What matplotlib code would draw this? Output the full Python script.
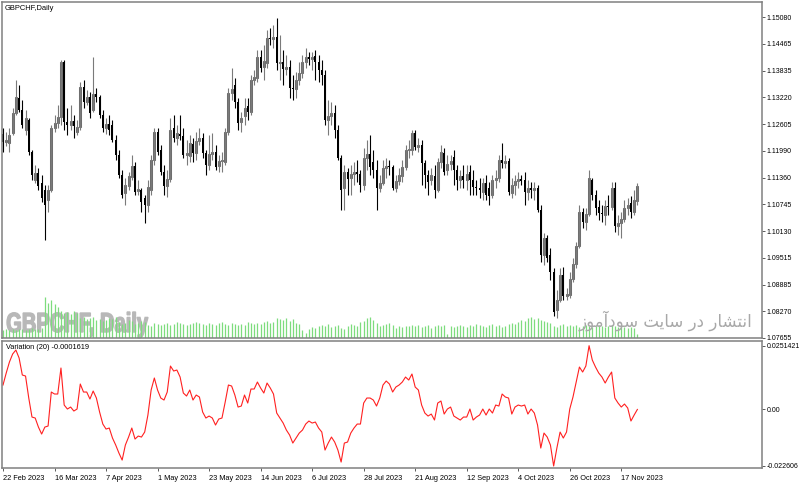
import matplotlib

matplotlib.use("Agg")
import matplotlib.pyplot as plt
import numpy as np
import pandas as pd
from matplotlib.font_manager import FontProperties
from matplotlib.patches import PathPatch
from matplotlib.textpath import TextPath
from matplotlib.transforms import Affine2D

plt.rcParams["font.family"] = ["Liberation Sans", "DejaVu Sans"]

SYMBOL = "GBPCHF"
TIMEFRAME = "Daily"
dates = pd.bdate_range("2023-02-22", periods=198)

opens = [
    1.1237, 1.1219, 1.1217, 1.1240, 1.1286, 1.1321, 1.1293, 1.1247, 1.1270, 1.1196,
    1.1131, 1.1147, 1.1124, 1.1108, 1.1085, 1.1108, 1.1251, 1.1263, 1.1277, 1.1404,
    1.1265, 1.1258, 1.1267, 1.1242, 1.1254, 1.1346, 1.1311, 1.1323, 1.1293, 1.1330,
    1.1323, 1.1281, 1.1251, 1.1260, 1.1258, 1.1224, 1.1189, 1.1143, 1.1101, 1.1117,
    1.1138, 1.1163, 1.1106, 1.1108, 1.1089, 1.1073, 1.1108, 1.1177, 1.1242, 1.1200,
    1.1150, 1.1117, 1.1133, 1.1251, 1.1228, 1.1237, 1.1233, 1.1189, 1.1187, 1.1214,
    1.1194, 1.1221, 1.1228, 1.1194, 1.1166, 1.1191, 1.1196, 1.1163, 1.1175, 1.1173,
    1.1242, 1.1332, 1.1351, 1.1311, 1.1265, 1.1279, 1.1302, 1.1288, 1.1362, 1.1367,
    1.1416, 1.1392, 1.1402, 1.1459, 1.1457, 1.1462, 1.1402, 1.1404, 1.1388, 1.1392,
    1.1344, 1.1342, 1.1362, 1.1379, 1.1404, 1.1416, 1.1411, 1.1418, 1.1404, 1.1385,
    1.1374, 1.1270, 1.1279, 1.1286, 1.1247, 1.1182, 1.1113, 1.1150, 1.1136, 1.1145,
    1.1150, 1.1145, 1.1119, 1.1182, 1.1191, 1.1173, 1.1154, 1.1113, 1.1124, 1.1159,
    1.1163, 1.1161, 1.1113, 1.1129, 1.1140, 1.1161, 1.1200, 1.1200, 1.1240, 1.1207,
    1.1212, 1.1170, 1.1143, 1.1131, 1.1140, 1.1108, 1.1173, 1.1194, 1.1154, 1.1168,
    1.1184, 1.1154, 1.1131, 1.1140, 1.1131, 1.1150, 1.1131, 1.1115, 1.1113, 1.1103,
    1.1124, 1.1113, 1.1096, 1.1131, 1.1136, 1.1177, 1.1170, 1.1175, 1.1101, 1.1119,
    1.1129, 1.1133, 1.1131, 1.1103, 1.1113, 1.1108, 1.1113, 1.1062, 1.0957, 1.0997,
    1.0957, 1.0918, 1.0830, 1.0853, 1.0911, 1.0863, 1.0865, 1.0902, 1.0937, 1.0978,
    1.1057, 1.1034, 1.1052, 1.1131, 1.1096, 1.1069, 1.1055, 1.1050, 1.1071, 1.1069,
    1.1113, 1.1025, 1.1032, 1.1041, 1.1066, 1.1078, 1.1057, 1.1082,
]
highs = [
    1.1251, 1.1242, 1.1251, 1.1298, 1.1362, 1.1351, 1.1316, 1.1293, 1.1274, 1.1200,
    1.1166, 1.1159, 1.1143, 1.1119, 1.1119, 1.1258, 1.1281, 1.1304, 1.1409, 1.1409,
    1.1298, 1.1304, 1.1281, 1.1270, 1.1358, 1.1362, 1.1339, 1.1335, 1.1416, 1.1344,
    1.1328, 1.1293, 1.1274, 1.1281, 1.1270, 1.1235, 1.1200, 1.1154, 1.1136, 1.1150,
    1.1189, 1.1173, 1.1131, 1.1113, 1.1096, 1.1131, 1.1189, 1.1251, 1.1251, 1.1212,
    1.1166, 1.1154, 1.1274, 1.1281, 1.1258, 1.1281, 1.1251, 1.1224, 1.1235, 1.1228,
    1.1242, 1.1251, 1.1240, 1.1200, 1.1235, 1.1240, 1.1212, 1.1189, 1.1196, 1.1251,
    1.1344, 1.1390, 1.1367, 1.1321, 1.1288, 1.1321, 1.1321, 1.1374, 1.1385, 1.1432,
    1.1432, 1.1443, 1.1478, 1.1483, 1.1490, 1.1506, 1.1466, 1.1432, 1.1420, 1.1409,
    1.1374, 1.1381, 1.1404, 1.1420, 1.1436, 1.1427, 1.1427, 1.1432, 1.1420, 1.1409,
    1.1385, 1.1316, 1.1311, 1.1304, 1.1258, 1.1189, 1.1166, 1.1159, 1.1166, 1.1173,
    1.1177, 1.1154, 1.1205, 1.1224, 1.1235, 1.1200, 1.1177, 1.1143, 1.1177, 1.1182,
    1.1177, 1.1166, 1.1143, 1.1159, 1.1177, 1.1212, 1.1224, 1.1247, 1.1247, 1.1228,
    1.1224, 1.1177, 1.1154, 1.1159, 1.1166, 1.1182, 1.1212, 1.1205, 1.1189, 1.1189,
    1.1200, 1.1166, 1.1154, 1.1166, 1.1166, 1.1166, 1.1154, 1.1131, 1.1136, 1.1136,
    1.1143, 1.1126, 1.1143, 1.1154, 1.1189, 1.1217, 1.1189, 1.1182, 1.1136, 1.1143,
    1.1150, 1.1143, 1.1150, 1.1131, 1.1126, 1.1126, 1.1119, 1.1073, 1.1008, 1.1004,
    1.0974, 1.0927, 1.0877, 1.0927, 1.0930, 1.0881, 1.0918, 1.0951, 1.0988, 1.1073,
    1.1066, 1.1066, 1.1154, 1.1136, 1.1108, 1.1085, 1.1073, 1.1085, 1.1096, 1.1126,
    1.1126, 1.1050, 1.1057, 1.1085, 1.1089, 1.1094, 1.1108, 1.1124,
]
lows = [
    1.1196, 1.1210, 1.1196, 1.1235, 1.1281, 1.1288, 1.1251, 1.1235, 1.1189, 1.1131,
    1.1124, 1.1108, 1.1080, 1.0992, 1.1057, 1.1103, 1.1242, 1.1251, 1.1258, 1.1247,
    1.1235, 1.1247, 1.1228, 1.1235, 1.1247, 1.1298, 1.1304, 1.1274, 1.1288, 1.1311,
    1.1274, 1.1242, 1.1237, 1.1235, 1.1219, 1.1177, 1.1136, 1.1089, 1.1073, 1.1108,
    1.1131, 1.1096, 1.1096, 1.1057, 1.1032, 1.1057, 1.1096, 1.1166, 1.1189, 1.1143,
    1.1096, 1.1092, 1.1126, 1.1219, 1.1212, 1.1224, 1.1182, 1.1166, 1.1173, 1.1173,
    1.1177, 1.1212, 1.1182, 1.1143, 1.1154, 1.1177, 1.1154, 1.1150, 1.1150, 1.1166,
    1.1235, 1.1316, 1.1298, 1.1247, 1.1242, 1.1258, 1.1270, 1.1281, 1.1351, 1.1358,
    1.1381, 1.1362, 1.1390, 1.1443, 1.1436, 1.1385, 1.1362, 1.1351, 1.1374, 1.1321,
    1.1316, 1.1321, 1.1351, 1.1367, 1.1390, 1.1397, 1.1385, 1.1362, 1.1358, 1.1351,
    1.1258, 1.1235, 1.1258, 1.1228, 1.1177, 1.1062, 1.1062, 1.1096, 1.1096, 1.1119,
    1.1126, 1.1103, 1.1108, 1.1154, 1.1143, 1.1136, 1.1062, 1.1103, 1.1119, 1.1136,
    1.1143, 1.1108, 1.1103, 1.1119, 1.1126, 1.1154, 1.1182, 1.1189, 1.1200, 1.1196,
    1.1119, 1.1113, 1.1096, 1.1119, 1.1089, 1.1103, 1.1159, 1.1143, 1.1143, 1.1154,
    1.1119, 1.1108, 1.1113, 1.1113, 1.1108, 1.1096, 1.1096, 1.1096, 1.1089, 1.1085,
    1.1085, 1.1073, 1.1089, 1.1113, 1.1126, 1.1159, 1.1159, 1.1096, 1.1089, 1.1096,
    1.1113, 1.1119, 1.1073, 1.1085, 1.1089, 1.1085, 1.1057, 1.0941, 1.0934, 1.0941,
    1.0900, 1.0816, 1.0812, 1.0849, 1.0853, 1.0853, 1.0858, 1.0895, 1.0927, 1.0974,
    1.1020, 1.1015, 1.1048, 1.1085, 1.1050, 1.1038, 1.1034, 1.1027, 1.1050, 1.1062,
    1.1011, 1.1004, 1.0997, 1.1034, 1.1050, 1.1043, 1.1050, 1.1073,
]
closes = [
    1.1219, 1.1224, 1.1235, 1.1286, 1.1323, 1.1293, 1.1258, 1.1274, 1.1196, 1.1143,
    1.1147, 1.1117, 1.1089, 1.1073, 1.1108, 1.1251, 1.1263, 1.1277, 1.1404, 1.1265,
    1.1258, 1.1267, 1.1256, 1.1254, 1.1346, 1.1311, 1.1323, 1.1286, 1.1330, 1.1323,
    1.1281, 1.1251, 1.1260, 1.1247, 1.1224, 1.1189, 1.1143, 1.1096, 1.1119, 1.1140,
    1.1163, 1.1103, 1.1110, 1.1080, 1.1073, 1.1115, 1.1177, 1.1242, 1.1196, 1.1150,
    1.1117, 1.1133, 1.1247, 1.1228, 1.1240, 1.1233, 1.1189, 1.1194, 1.1217, 1.1194,
    1.1221, 1.1228, 1.1194, 1.1166, 1.1191, 1.1196, 1.1161, 1.1175, 1.1177, 1.1242,
    1.1332, 1.1342, 1.1311, 1.1263, 1.1274, 1.1298, 1.1288, 1.1362, 1.1369, 1.1416,
    1.1390, 1.1406, 1.1459, 1.1457, 1.1462, 1.1402, 1.1404, 1.1388, 1.1392, 1.1344,
    1.1342, 1.1362, 1.1379, 1.1404, 1.1416, 1.1411, 1.1416, 1.1404, 1.1385, 1.1374,
    1.1270, 1.1279, 1.1286, 1.1247, 1.1182, 1.1108, 1.1150, 1.1133, 1.1145, 1.1150,
    1.1145, 1.1119, 1.1182, 1.1191, 1.1161, 1.1154, 1.1113, 1.1124, 1.1159, 1.1163,
    1.1161, 1.1113, 1.1129, 1.1143, 1.1161, 1.1200, 1.1203, 1.1240, 1.1207, 1.1212,
    1.1170, 1.1143, 1.1126, 1.1143, 1.1108, 1.1173, 1.1196, 1.1150, 1.1168, 1.1175,
    1.1154, 1.1131, 1.1140, 1.1131, 1.1145, 1.1131, 1.1115, 1.1113, 1.1108, 1.1124,
    1.1096, 1.1094, 1.1131, 1.1136, 1.1177, 1.1170, 1.1175, 1.1103, 1.1119, 1.1129,
    1.1133, 1.1129, 1.1103, 1.1113, 1.1108, 1.1113, 1.1062, 1.0957, 1.0997, 1.0951,
    1.0918, 1.0826, 1.0853, 1.0911, 1.0863, 1.0867, 1.0902, 1.0937, 1.0978, 1.1057,
    1.1034, 1.1052, 1.1136, 1.1096, 1.1066, 1.1055, 1.1052, 1.1071, 1.1069, 1.1113,
    1.1025, 1.1032, 1.1041, 1.1066, 1.1073, 1.1057, 1.1085, 1.1117,
]
# tick volume, thousands
volumes_k = [
    16, 18, 16, 18, 16, 18, 18, 16, 18, 20, 18, 18, 20,
    82, 70, 76, 68, 62, 54, 50, 52, 48, 54, 50,
    40, 42, 38, 40, 42, 36, 38, 34, 36, 40, 38, 42, 32, 28, 30, 36, 34,
    28, 30, 34, 32, 26, 24, 30, 28, 26, 28, 30, 26, 28, 32, 30, 28, 26, 28, 30, 32,
    30, 28, 26, 30, 28, 26, 30, 32, 28, 26, 30, 28, 26, 28, 26, 32, 30, 28, 30, 28,
    32, 34, 30, 32,
    40, 38, 36, 40, 34, 38, 30, 28,
    16, 10, 18, 22, 20, 24,
    26, 24, 28, 22, 24, 26, 20, 18, 24, 28, 26, 24,
    32, 34, 40, 42, 36, 30, 24, 26, 28, 30, 26, 20, 24,
    22, 24, 24, 26, 24, 26, 22, 24, 26, 20, 24, 26,
    24, 26, 8, 24, 22,
    24, 26, 24, 22, 26, 24, 28, 26, 24, 22, 26, 28, 24, 26, 22, 24, 28,
    30, 28, 32, 36, 34, 40, 42, 38, 40, 36, 34,
    32, 30, 24, 22, 26, 28, 24, 26,
    24, 26, 22, 24, 26, 24, 22, 24, 26, 24, 22, 24, 26, 24, 22, 24, 22, 20, 22, 20,
    8,
]
variation = [
    0.00953, 0.01429, 0.01866, 0.02184, 0.02342, 0.02025, 0.01350, 0.01310, 0.00437, -0.00318,
    -0.00357, -0.00715, -0.00993, -0.00715, -0.00675, 0.00675, 0.00596, 0.00596, 0.01628, 0.00159,
    0.00000, 0.00079, -0.00079, 0.00000, 0.00993, 0.00675, 0.00675, 0.00397, 0.00715, 0.00437,
    -0.00119, -0.00596, -0.00794, -0.00754, -0.01151, -0.01429, -0.01747, -0.02025, -0.01429, -0.01112,
    -0.00754, -0.01191, -0.01072, -0.01112, -0.00913, -0.00238, 0.00754, 0.01231, 0.00754, 0.00437,
    0.00357, 0.00675, 0.01707, 0.01509, 0.01548, 0.01270, 0.00635, 0.00516, 0.00754, 0.00357,
    0.00556, 0.00476, -0.00119, -0.00357, -0.00278, -0.00357, -0.00635, -0.00397, -0.00357, 0.00278,
    0.00953, 0.00913, 0.00556, 0.00079, 0.00119, 0.00556, 0.00238, 0.00794, 0.00794, 0.01072,
    0.00834, 0.00635, 0.01032, 0.00834, 0.00596, -0.00159, -0.00357, -0.00556, -0.00834, -0.01032,
    -0.01350, -0.01151, -0.00953, -0.00834, -0.00596, -0.00476, -0.00556, -0.00516, -0.00754, -0.00913,
    -0.01628, -0.01350, -0.01112, -0.01310, -0.01628, -0.02104, -0.01350, -0.01310, -0.00953, -0.00754,
    -0.00596, -0.00596, 0.00238, 0.00437, 0.00437, 0.00357, 0.00119, 0.00437, 0.00953, 0.01112,
    0.00993, 0.00675, 0.00873, 0.00953, 0.01072, 0.01270, 0.01151, 0.01390, 0.00873, 0.00754,
    0.00159, -0.00159, -0.00278, -0.00199, -0.00437, 0.00238, 0.00318, -0.00199, 0.00000, 0.00079,
    -0.00278, -0.00357, -0.00437, -0.00318, -0.00318, 0.00000, -0.00437, -0.00318, -0.00238, 0.00000,
    -0.00238, 0.00000, -0.00159, 0.00159, 0.00119, 0.00596, 0.00476, 0.00437, -0.00199, 0.00079,
    0.00159, 0.00119, 0.00159, -0.00199, 0.00000, -0.00159, -0.00635, -0.01548, -0.00953, -0.01112,
    -0.01429, -0.022606, -0.01548, -0.00913, -0.01151, -0.00913, 0.00000, 0.00476, 0.01072, 0.01667,
    0.01469, 0.01707, 0.0251421, 0.01945, 0.01667, 0.01429, 0.01270, 0.01032, 0.01270, 0.01469,
    0.00437, 0.00238, 0.00079, 0.00199, 0.00040, -0.00476, -0.00238, -0.0001619,
]

price_ticks = [1.15080, 1.14465, 1.13835, 1.13220, 1.12605, 1.11990, 1.11360,
               1.10745, 1.10130, 1.09515, 1.08885, 1.08270, 1.07655]
variation_ticks = [0.0251421, 0.0, -0.022606]
variation_tick_labels = ["0.0251421", "0.00", "-0.022606"]
date_step = 16
watermark_fa = ("\uFEAF\uFEEE\uFEE3\uFE81\uFEA9\uFEEE\uFEB3 \uFE96\uFEF3\uFE8E\uFEB3 "
                "\uFEAD\uFEA9 \uFEAD\uFE8E\uFEB8\uFE98\uFEE7\uFE8D")

FRAME = "#808080"
W, H = 800, 488

o = np.array(opens)
c = np.array(closes)
x = np.arange(len(dates))
up = c >= o

fig = plt.figure(figsize=(W / 100, H / 100), dpi=100, facecolor="white")
ax = fig.add_axes([2 / W, 1 - 338 / H, 760 / W, 336 / H])
axv = fig.add_axes([2 / W, 1 - 468 / H, 760 / W, 127 / H])
vol = ax.twinx()
ax.set_zorder(2)
vol.set_zorder(1)
ax.patch.set_visible(False)
vol.patch.set_visible(False)

x_lim = (-0.31, 235.7)

# volumes
vol.vlines(x, 0, volumes_k, colors="#7ddc7d", lw=0.9)
vol.set_ylim(0, 672)
vol.set_yticks([])
for s in vol.spines.values():
    s.set_visible(False)

# candles
ax.vlines(x[up], np.array(lows)[up], np.array(highs)[up], color="#7a7a7a", lw=0.8)
ax.vlines(x[~up], np.array(lows)[~up], np.array(highs)[~up], color="black", lw=0.8)
bottoms = np.minimum(o, c)
heights = np.maximum(np.abs(c - o), 0.00003)
ax.bar(x[up], heights[up], bottom=bottoms[up], width=0.62, facecolor="#e8e8e8",
       edgecolor="#6e6e6e", lw=0.75)
ax.bar(x[~up], heights[~up], bottom=bottoms[~up], width=0.62, color="black", lw=0)
ax.set_xlim(*x_lim)
ax.set_ylim(1.07655, 1.15427)
ax.set_xticks([])
ax.yaxis.tick_right()
ax.set_yticks(price_ticks, [f"{p:.5f}" for p in price_ticks])

# variation panel
axv.plot(x, variation, color="#ff2020", lw=0.8)
axv.set_xlim(*x_lim)
axv.set_ylim(-0.0234, 0.0270)
axv.yaxis.tick_right()
axv.set_yticks(variation_ticks, variation_tick_labels)
tick_idx = x[::date_step]
axv.set_xticks(tick_idx, [f"{dates[i].day} {dates[i]:%b %Y}" for i in tick_idx])
for lbl in axv.get_xticklabels():
    lbl.set_ha("left")

for a in (ax, axv):
    for s in a.spines.values():
        s.set_color(FRAME)
        s.set_linewidth(1.1)
    a.tick_params(axis="y", length=1.8, pad=1.4, width=0.6, color="#404040",
                  labelsize=5.0)
axv.tick_params(axis="x", length=2.5, pad=2.2, width=0.6, color="#404040",
                labelsize=5.3)

ax.text(0.004, 0.99, f"{SYMBOL},{TIMEFRAME}", transform=ax.transAxes,
        ha="left", va="top", fontsize=5.4)
axv.text(0.005, 0.975, f"Variation (20) {variation[-1]:.7f}", transform=axv.transAxes,
         ha="left", va="top", fontsize=5.3)

# background watermark
prop = FontProperties(family="Liberation Sans", weight="bold")
tp = TextPath((0, 0), f"{SYMBOL}, {TIMEFRAME}", size=1, prop=prop)
ext = tp.get_extents()
cap = TextPath((0, 0), "H", size=1, prop=prop).get_extents().height
sx = 141 / ext.width
sy = 19 / cap
trans = (Affine2D().translate(-ext.x0, 0).scale(sx / 100, sy / 100)
         .translate(7 / 100, (H - 332) / 100) + fig.dpi_scale_trans)
fig.add_artist(PathPatch(tp, transform=trans, facecolor="#b8b8b8",
                         edgecolor="#b8b8b8", lw=1.0, zorder=0.5))

fig.text(752 / W, (H - 327) / H, watermark_fa, ha="right", va="baseline",
         fontsize=12, color="#a8a8a8", family="DejaVu Sans", zorder=5)

fig.savefig("out.png", dpi=100, facecolor="white")
